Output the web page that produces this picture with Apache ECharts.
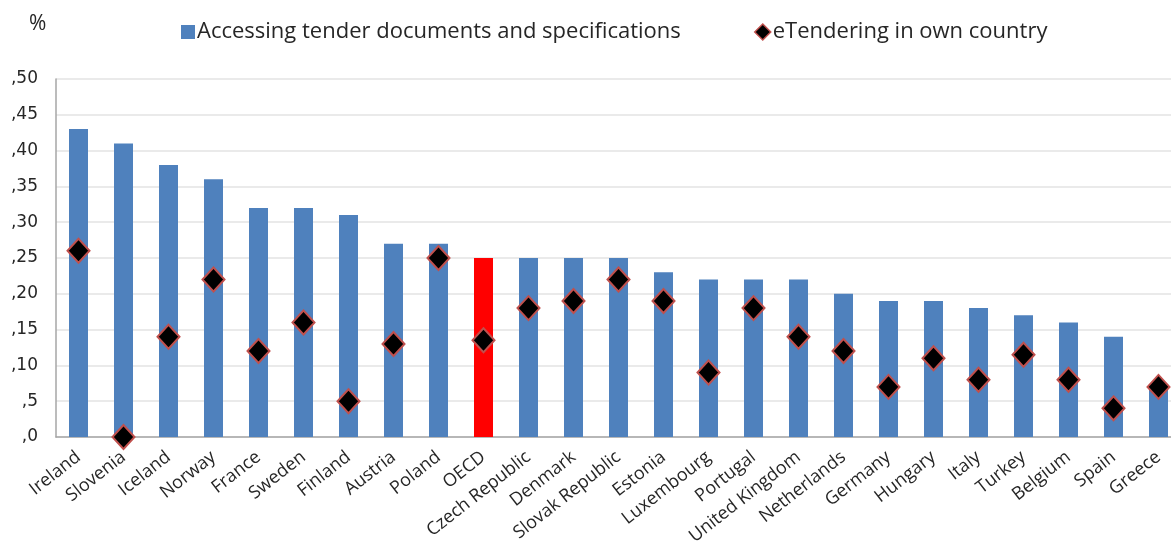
<!DOCTYPE html>
<html>
<head>
<meta charset="utf-8">
<script src="https://cdn.jsdelivr.net/npm/echarts@6.0.0/dist/echarts.min.js"></script>
<style>
  html, body { margin: 0; padding: 0; background: #fff; overflow: hidden; }
  #chart { width: 1181px; height: 548px; }
</style>
</head>
<body>
<div id="chart"></div>
<script>
  // countries, in the order shown
  var countries = ['Ireland', 'Slovenia', 'Iceland', 'Norway', 'France', 'Sweden', 'Finland',
    'Austria', 'Poland', 'OECD', 'Czech Republic', 'Denmark', 'Slovak Republic', 'Estonia',
    'Luxembourg', 'Portugal', 'United Kingdom', 'Netherlands', 'Germany', 'Hungary', 'Italy',
    'Turkey', 'Belgium', 'Spain', 'Greece'];

  // Accessing tender documents and specifications
  var accessing = [0.43, 0.41, 0.38, 0.36, 0.32, 0.32, 0.31, 0.27, 0.27, 0.25, 0.25, 0.25, 0.25,
    0.23, 0.22, 0.22, 0.22, 0.20, 0.19, 0.19, 0.18, 0.17, 0.16, 0.14, 0.07];

  // eTendering in own country
  var eTendering = [0.26, 0.00, 0.14, 0.22, 0.12, 0.16, 0.05, 0.13, 0.25, 0.135, 0.18, 0.19, 0.22,
    0.19, 0.09, 0.18, 0.14, 0.12, 0.07, 0.11, 0.08, 0.115, 0.08, 0.04, 0.07];

  var barName = 'Accessing tender documents and specifications';
  var dotName = 'eTendering in own country';
  var highlight = 'OECD';

  var chart = echarts.init(document.getElementById('chart'));
  chart.setOption({
    animation: false,
    textStyle: { fontFamily: 'Open Sans' },
    graphic: [{
      type: 'text',
      left: 29,
      top: 14,
      style: { text: '%', fontSize: 21, fill: '#262626', fontFamily: 'Open Sans' }
    }],
    legend: [
      {
        left: 176,
        top: 16,
        itemWidth: 14,
        itemHeight: 14,
        textStyle: { fontSize: 22, color: '#262626', padding: [0, 0, 0, -3] },
        data: [{ name: barName, icon: 'rect', itemStyle: { color: '#4f81bd' } }]
      },
      {
        left: 749,
        top: 16,
        itemWidth: 16,
        itemHeight: 16,
        textStyle: { fontSize: 22, color: '#262626', padding: [0, 0, 0, -3] },
        data: [{ name: dotName, icon: 'diamond', itemStyle: { color: '#000', borderColor: '#c0504d', borderWidth: 1.5 } }]
      }
    ],
    grid: {
      left: 56,
      top: 79,
      width: 1125,
      height: 358
    },
    xAxis: {
      type: 'category',
      data: countries,
      axisTick: { show: false },
      axisLine: { lineStyle: { color: '#a6a6a6', width: 1.5 } },
      axisLabel: {
        interval: 0,
        rotate: 38,
        margin: 18,
        fontSize: 18,
        color: '#262626'
      }
    },
    yAxis: {
      type: 'value',
      min: 0,
      max: 0.5,
      interval: 0.05,
      axisLine: { show: true, lineStyle: { color: '#a6a6a6', width: 1.5 } },
      axisTick: { show: false },
      splitLine: { lineStyle: { color: '#e3e3e3', width: 1.5 } },
      axisLabel: {
        fontSize: 17,
        fontFamily: 'DejaVu Sans',
        color: '#262626',
        margin: 18,
        formatter: function (v) { return ',' + Math.round(v * 100); }
      }
    },
    series: [
      {
        name: barName,
        type: 'bar',
        barWidth: 19,
        itemStyle: { color: '#4f81bd' },
        data: accessing.map(function (v, i) {
          if (countries[i] === highlight) {
            return { value: v, itemStyle: { color: '#ff0000' } };
          }
          return v;
        })
      },
      {
        name: dotName,
        type: 'scatter',
        symbol: 'diamond',
        symbolSize: [22, 24],
        itemStyle: { color: '#000', borderColor: '#c0504d', borderWidth: 2, opacity: 1 },
        data: eTendering,
        z: 5
      }
    ]
  });
</script>
</body>
</html>
